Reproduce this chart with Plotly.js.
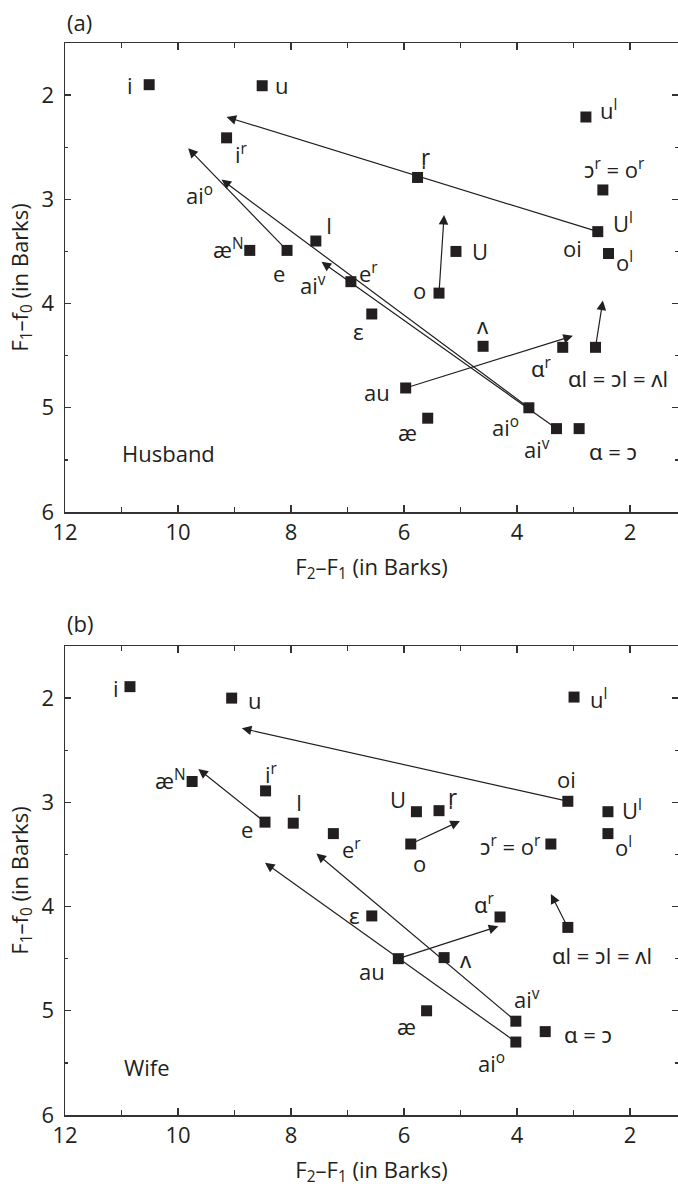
<!DOCTYPE html>
<html>
<head>
<meta charset="utf-8">
<script src="https://cdn.plot.ly/plotly-3.0.1.min.js"></script>
<style>html,body{margin:0;padding:0;background:#fff;}</style>
</head>
<body>
<div id="chart" style="width:678px;height:1190px;"></div>
<script>
// ---------- Panel (a): Husband ----------
const hPtX = [10.51, 8.51, 9.14, 8.73, 8.07, 7.56, 6.94, 6.57, 5.76, 5.08, 5.38, 4.60, 5.97, 5.58, 3.79, 3.30, 2.90, 3.19, 2.61, 2.78, 2.48, 2.57, 2.38];
const hPtY = [1.90, 1.91, 2.41, 3.49, 3.49, 3.40, 3.79, 4.10, 2.79, 3.50, 3.90, 4.41, 4.81, 5.10, 5.00, 5.20, 5.20, 4.42, 4.42, 2.21, 2.91, 3.31, 3.52];

const hLabText = ['i', 'u', 'i<sup>r</sup>', 'ai<sup>o</sup>', 'æ<sup>N</sup>', 'e', 'ai<sup>v</sup>', 'I', 'r\u0329', 'u<sup>l</sup>',
  'ɔ<sup>r</sup> = o<sup>r</sup>', 'U<sup>l</sup>', 'oi', 'o<sup>l</sup>', 'U', 'o', 'e<sup>r</sup>', 'ɛ', 'ʌ', 'ɑ<sup>r</sup>',
  'ɑl = ɔl = ʌl', 'au', 'æ', 'ai<sup>o</sup>', 'ai<sup>v</sup>', 'ɑ = ɔ', 'Husband'];
const hLabX = [10.85, 8.16, 8.87, 9.62, 9.11, 8.22, 7.61, 7.32, 5.62, 2.38, 2.27, 2.12, 3.01, 2.09, 4.65, 5.72, 6.63, 6.81, 4.60, 3.56, 2.21, 6.48, 5.94, 4.21, 3.65, 2.30, 10.17];
const hLabY = [1.90, 1.90, 2.56, 2.95, 3.47, 3.71, 3.82, 3.25, 2.58, 2.14, 2.70, 3.22, 3.47, 3.60, 3.50, 3.87, 3.70, 4.26, 4.21, 4.61, 4.71, 4.85, 5.23, 5.18, 5.39, 5.41, 5.43];

const hArrTailX = [2.57, 3.79, 3.30, 8.07, 5.97, 2.61, 5.38];
const hArrTailY = [3.31, 5.00, 5.20, 3.49, 4.81, 4.42, 3.90];
const hArrHeadX = [9.14, 9.23, 7.46, 9.82, 3.01, 2.48, 5.29];
const hArrHeadY = [2.21, 2.81, 3.60, 2.51, 4.31, 3.97, 3.15];

// ---------- Panel (b): Wife ----------
const wPtX = [10.85, 9.05, 9.75, 8.45, 8.46, 7.96, 7.25, 5.78, 5.38, 5.88, 3.40, 3.10, 2.99, 2.39, 2.39, 6.57, 4.30, 3.10, 6.10, 5.29, 4.02, 4.02, 3.50, 5.60];
const wPtY = [1.89, 2.00, 2.80, 2.89, 3.19, 3.20, 3.30, 3.09, 3.08, 3.40, 3.40, 2.99, 1.99, 3.09, 3.30, 4.09, 4.10, 4.20, 4.50, 4.49, 5.10, 5.30, 5.20, 5.00];

const wLabText = ['i', 'u', 'æ<sup>N</sup>', 'i<sup>r</sup>', 'e', 'I', 'e<sup>r</sup>', 'U', 'r\u0329', 'o',
  'ɔ<sup>r</sup> = o<sup>r</sup>', 'oi', 'u<sup>l</sup>', 'U<sup>l</sup>', 'o<sup>l</sup>', 'ɛ', 'ɑ<sup>r</sup>', 'ɑl = ɔl = ʌl',
  'au', 'ʌ', 'ai<sup>v</sup>', 'ai<sup>o</sup>', 'ɑ = ɔ', 'æ', 'Wife'];
const wLabX = [11.10, 8.64, 10.14, 8.34, 8.78, 7.85, 6.93, 6.10, 5.14, 5.72, 4.12, 3.13, 2.56, 1.97, 2.12, 6.87, 4.57, 2.50, 6.57, 4.90, 3.83, 4.45, 2.74, 5.95, 10.55];
const wLabY = [1.90, 2.02, 2.78, 2.72, 3.26, 3.00, 3.44, 2.97, 2.94, 3.58, 3.41, 2.78, 2.00, 3.07, 3.42, 4.08, 3.97, 4.46, 4.62, 4.50, 4.88, 5.50, 5.22, 5.15, 5.54];

const wArrTailX = [3.10, 8.46, 4.02, 4.02, 6.10, 3.10, 5.88];
const wArrTailY = [2.99, 3.19, 5.30, 5.10, 4.50, 4.20, 3.40];
const wArrHeadX = [8.87, 9.64, 8.46, 7.55, 4.33, 3.40, 5.01];
const wArrHeadY = [2.29, 2.68, 3.58, 3.49, 4.19, 3.88, 3.18];

const panelTags = ['(a)', '(b)'];
const xTitle = 'F<sub>2</sub>–F<sub>1</sub> (in Barks)';
const yTitle = 'F<sub>1</sub>–f<sub>0</sub> (in Barks)';

// ---------- Build ----------
const INK = '#231f20';
const FONT = 'Open Sans, Noto Sans, DejaVu Sans, sans-serif';
const FS = 22;

function pointTrace(xs, ys, xa, ya) {
  return {x: xs, y: ys, xaxis: xa, yaxis: ya, type: 'scatter', mode: 'markers',
    marker: {symbol: 'square', size: 11, color: INK, line: {width: 0}}, hoverinfo: 'skip', showlegend: false};
}

const data = [pointTrace(hPtX, hPtY, 'x', 'y'), pointTrace(wPtX, wPtY, 'x2', 'y2')];

const annotations = [];
function addLabels(txt, xs, ys, xr, yr) {
  for (let i = 0; i < txt.length; i++) {
    annotations.push({x: xs[i], y: ys[i], xref: xr, yref: yr, text: txt[i], showarrow: false,
      xanchor: 'center', yanchor: 'middle', font: {family: FONT, size: FS, color: INK}});
  }
}
function addArrows(tx, ty, hx, hy, xr, yr) {
  for (let i = 0; i < tx.length; i++) {
    annotations.push({x: hx[i], y: hy[i], ax: tx[i], ay: ty[i], xref: xr, yref: yr, axref: xr, ayref: yr,
      text: '', showarrow: true, arrowhead: 2, arrowsize: 1.6, arrowwidth: 1.2, arrowcolor: INK,
      standoff: 0, startstandoff: 0});
  }
}
addArrows(hArrTailX, hArrTailY, hArrHeadX, hArrHeadY, 'x', 'y');
addArrows(wArrTailX, wArrTailY, wArrHeadX, wArrHeadY, 'x2', 'y2');
addLabels(hLabText, hLabX, hLabY, 'x', 'y');
addLabels(wLabText, wLabX, wLabY, 'x2', 'y2');

annotations.push({x: 0, y: 1.0196, xref: 'paper', yref: 'paper', text: panelTags[0], showarrow: false,
  xanchor: 'left', yanchor: 'middle', font: {family: FONT, size: FS, color: INK}});
annotations.push({x: 0, y: 0.4592, xref: 'paper', yref: 'paper', text: panelTags[1], showarrow: false,
  xanchor: 'left', yanchor: 'middle', font: {family: FONT, size: FS, color: INK}});

function xAxis(anchor) {
  return {anchor: anchor, domain: [0, 1], range: [12, 1.15], tick0: 0, dtick: 2,
    ticks: 'inside', ticklen: 7, tickwidth: 1.3, tickcolor: '#333',
    minor: {dtick: 1, tick0: 0, ticks: 'inside', ticklen: 5, tickwidth: 1.3, tickcolor: '#333'},
    showline: true, linecolor: '#333', linewidth: 1.5, mirror: 'ticks',
    showgrid: false, zeroline: false,
    tickfont: {family: FONT, size: FS, color: INK},
    title: {text: xTitle, font: {family: FONT, size: FS, color: INK}, standoff: 14}};
}
function yAxis(anchor, dom) {
  return {anchor: anchor, domain: dom, range: [6, 1.5], tick0: 0, dtick: 1,
    ticks: 'inside', ticklen: 6, tickwidth: 1.3, tickcolor: '#333',
    minor: {dtick: 0.5, tick0: 0, ticks: 'inside', ticklen: 3, tickwidth: 1.3, tickcolor: '#333'},
    showline: true, linecolor: '#333', linewidth: 1.5, mirror: 'ticks',
    showgrid: false, zeroline: false, ticklabelstandoff: 5,
    tickfont: {family: FONT, size: FS, color: INK},
    title: {text: yTitle, font: {family: FONT, size: FS, color: INK}, standoff: 7}};
}

const layout = {
  width: 678, height: 1190,
  margin: {l: 65, r: 0, t: 43, b: 75},
  paper_bgcolor: '#fff', plot_bgcolor: '#fff',
  showlegend: false,
  xaxis: xAxis('y'), yaxis: yAxis('x', [0.5625, 1]),
  xaxis2: xAxis('y2'), yaxis2: yAxis('x2', [0, 0.4375]),
  annotations: annotations
};

Plotly.newPlot('chart', data, layout, {staticPlot: true});
</script>
</body>
</html>
